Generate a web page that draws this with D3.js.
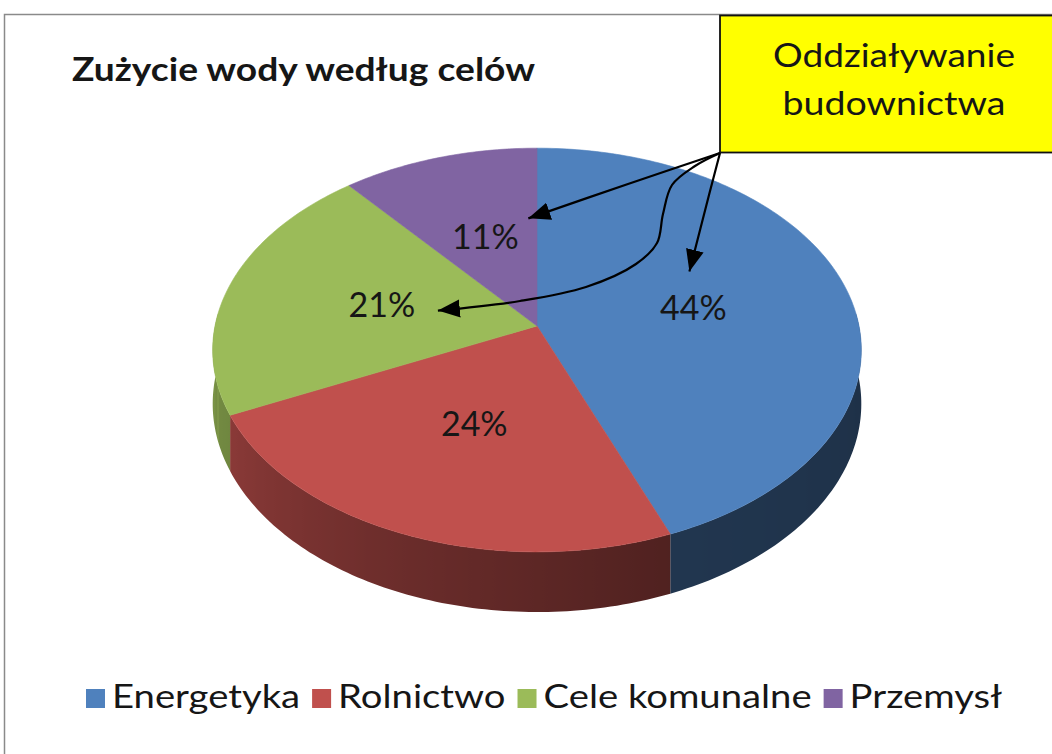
<!DOCTYPE html>
<html>
<head>
<meta charset="utf-8">
<script src="https://cdnjs.cloudflare.com/ajax/libs/d3/7.8.5/d3.min.js"></script>
<style>
  html, body { margin: 0; padding: 0; background: #fff; }
  svg { display: block; }
  text { font-family: Lato, "Open Sans", sans-serif; fill: #161616; }
</style>
</head>
<body>
<svg id="chart" width="1052" height="754"></svg>
<script>
// data
var categories = ["Energetyka", "Rolnictwo", "Cele komunalne", "Przemysł"];
var shares = [44, 24, 21, 11];
var colors = ["#4f81bd", "#c0504d", "#9bbb59", "#8064a2"];
var title = "Zużycie wody według celów";
var calloutLines = ["Oddziaływanie", "budownictwa"];
// which slices the callout points at (index into categories)
var calloutTargets = [3, 0, 2];

var W = 1052, H = 754;
var svg = d3.select("#chart");
var defs = svg.append("defs");

// stretch a text element to a given width (Calibri-like proportions)
var fitText = function(sel, w){
	sel.attr("textLength", w).attr("lengthAdjust", "spacingAndGlyphs");
	return sel;
};

// frame
svg.append("path")
	.attr("d", "M4.5," + H + "V14.5H" + W)
	.attr("fill", "none").attr("stroke", "#8a8a8a").attr("stroke-width", 1.5);

// title
fitText(svg.append("text").attr("x", 72).attr("y", 81)
	.style("font-size", "32px").style("font-weight", 700)
	.text(title), 463);

// 3d pie geometry (top face is a perspective disk)
var cx = 537, cy = 326, rx = 322, ry = 199, persp = 0.119, depth = 53;
var proj = function(t, f, drop){
	var u = f * Math.sin(t), v = -f * Math.cos(t);
	var k = 1 / (1 - persp * v);
	return [cx + rx * u * k, cy + (ry * v + drop) * k];
};
var shade = d3.scaleLinear().domain([100, 160, 200, 245, 275]).range([0.38, 0.42, 0.55, 0.72, 0.8]).clamp(true);
var darker = function(c, s){
	var col = d3.rgb(c);
	return d3.rgb(col.r * s, col.g * s, col.b * s).toString();
};

var arcs = d3.pie().sort(null).value(function(d){ return d; })(shares);
var line = d3.line();
var step = Math.PI / 180;

// walls, front half only, one path per slice with a horizontal gradient
var gWall = svg.append("g");
arcs.forEach(function(a, i){
	var a0 = Math.max(a.startAngle, 86 * step), a1 = Math.min(a.endAngle, 274 * step);
	if (a1 <= a0) return;
	var n = Math.max(2, Math.ceil((a1 - a0) / step));
	var ts = d3.range(n + 1).map(function(j){ return a0 + (a1 - a0) * j / n; });
	var top = ts.map(function(t){ return proj(t, 1, 0); });
	var bot = ts.map(function(t){ return proj(t, 1, depth); }).reverse();
	var xs = d3.extent(top, function(p){ return p[0]; });
	var grad = defs.append("linearGradient").attr("id", "wall" + i)
		.attr("gradientUnits", "userSpaceOnUse")
		.attr("x1", xs[0]).attr("x2", xs[1]).attr("y1", 0).attr("y2", 0);
	var stops = ts.map(function(t, j){ return { x: top[j][0], c: darker(colors[i], shade(t / step)) }; })
		.sort(function(p, q){ return p.x - q.x; });
	grad.selectAll("stop").data(stops).join("stop")
		.attr("offset", function(d){ return xs[1] > xs[0] ? (d.x - xs[0]) / (xs[1] - xs[0]) : 0; })
		.attr("stop-color", function(d){ return d.c; });
	gWall.append("path").attr("d", line(top.concat(bot)) + "Z")
		.attr("fill", "url(#wall" + i + ")");
});

// top face
var gTop = svg.append("g");
arcs.forEach(function(a, i){
	var pts = [proj(0, 0, 0)];
	var n = Math.ceil((a.endAngle - a.startAngle) / step);
	for (var j = 0; j <= n; j++) pts.push(proj(a.startAngle + (a.endAngle - a.startAngle) * j / n, 1, 0));
	gTop.append("path").attr("d", line(pts) + "Z")
		.attr("fill", colors[i]).attr("stroke", colors[i]).attr("stroke-width", 0.6);
});

// percent labels
var labelPos = arcs.map(function(a){ return proj((a.startAngle + a.endAngle) / 2, 0.5, 0); });
svg.append("g").selectAll("text").data(arcs).join("text")
	.attr("x", function(d, i){ return labelPos[i][0]; })
	.attr("y", function(d, i){ return labelPos[i][1] + 12; })
	.attr("text-anchor", "middle")
	.style("font-size", "34px")
	.text(function(d){ return d.value + "%"; });

// callout box
svg.append("rect").attr("x", 720).attr("y", 15.5).attr("width", 340).attr("height", 137)
	.attr("fill", "#ffff00").attr("stroke", "#111").attr("stroke-width", 1.8);
var callW = [242, 223];
svg.append("g").selectAll("text").data(calloutLines).join("text")
	.attr("x", function(d, i){ return 894 - callW[i] / 2; })
	.attr("y", function(d, i){ return 67 + i * 48; })
	.style("font-size", "33px")
	.attr("textLength", function(d, i){ return callW[i]; })
	.attr("lengthAdjust", "spacingAndGlyphs")
	.text(function(d){ return d; });

// arrows from the box corner to the labels
defs.append("marker")
	.attr("id", "head").attr("viewBox", "0 -10 22 20")
	.attr("refX", 22).attr("refY", 0)
	.attr("markerWidth", 22).attr("markerHeight", 20)
	.attr("markerUnits", "userSpaceOnUse").attr("orient", "auto")
	.append("path").attr("d", "M0,-9L22,0L0,9Z").attr("fill", "#000");

var corner = [720, 153];
// hand-drawn bends for each arrow, ending next to its label
var arrowBends = [
	[[628, 184]],
	[[709, 195]],
	[[695, 166], [672, 185], [663, 214], [657, 243], [636, 264], [586, 287], [520, 301]]
];
var arrowEnds = [[43, -19], [-4, -36], [56, 6]];
var curve = d3.line().curve(d3.curveCatmullRom.alpha(0.5));
calloutTargets.forEach(function(ti, k){
	var end = [labelPos[ti][0] + arrowEnds[k][0], labelPos[ti][1] + arrowEnds[k][1]];
	var pts = [corner].concat(arrowBends[k], [end]);
	svg.append("path").attr("d", curve(pts))
		.attr("fill", "none").attr("stroke", "#000").attr("stroke-width", 2.2)
		.attr("marker-end", "url(#head)");
});

// legend, spread to the reference width
var gLeg = svg.append("g");
var legFont = 32, sw = 19, gapIn = 7, gapOut = 12, legW = 916;
var items = categories.map(function(c, i){
	var g = gLeg.append("g");
	g.append("rect").attr("width", sw).attr("height", sw).attr("y", -sw).attr("fill", colors[i]);
	var t = g.append("text").attr("x", sw + gapIn).attr("y", 0).style("font-size", legFont + "px").text(c);
	return { g: g, t: t, tw: t.node().getComputedTextLength() };
});
var fixed = items.length * (sw + gapIn) + gapOut * (items.length - 1);
var scaleW = (legW - fixed) / d3.sum(items, function(d){ return d.tw; });
var lx = 86;
items.forEach(function(it){
	var tw = it.tw * scaleW;
	fitText(it.t, tw);
	it.g.attr("transform", "translate(" + lx + ",708)");
	lx += sw + gapIn + tw + gapOut;
});
</script>
</body>
</html>
